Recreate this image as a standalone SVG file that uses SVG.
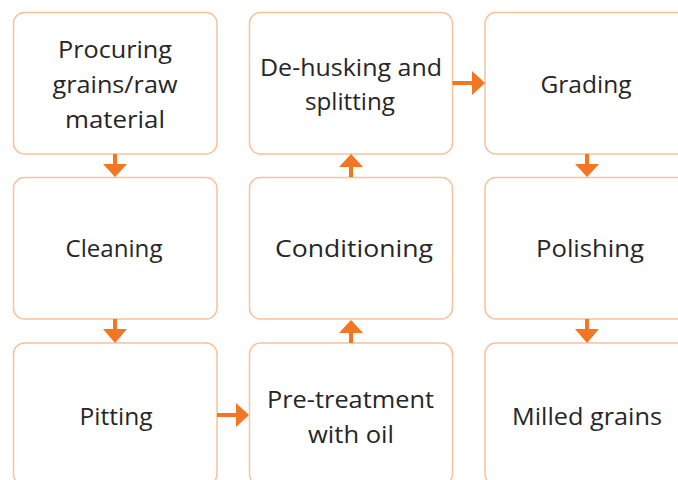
<svg xmlns="http://www.w3.org/2000/svg" width="678" height="480" viewBox="0 0 678 480">
  <style>
    .box { fill: #ffffff; stroke: #F9C29A; stroke-width: 1.5; }
    .lbl { font-family: "Open Sans", "Noto Sans", "Liberation Sans", sans-serif; font-size: 23.5px; fill: #262626; text-anchor: middle; }
    .shaft { stroke: #F47522; stroke-width: 4; fill: none; }
    .head { fill: #F47522; }
  </style>
  <rect width="678" height="480" fill="#ffffff"/>

  <!-- Column 1 -->
  <g id="procuring">
    <rect class="box" x="13.5" y="12.5" width="203.5" height="141.5" rx="11"/>
    <text class="lbl" x="115" y="58" textLength="114" lengthAdjust="spacingAndGlyphs">Procuring</text>
    <text class="lbl" x="115" y="93" textLength="125" lengthAdjust="spacingAndGlyphs">grains/raw</text>
    <text class="lbl" x="115" y="128" textLength="100" lengthAdjust="spacingAndGlyphs">material</text>
  </g>
  <g id="cleaning">
    <rect class="box" x="13.5" y="177.5" width="203.5" height="141.5" rx="11"/>
    <text class="lbl" x="114" y="257" textLength="97" lengthAdjust="spacingAndGlyphs">Cleaning</text>
  </g>
  <g id="pitting">
    <rect class="box" x="13.5" y="343" width="203.5" height="142" rx="11"/>
    <text class="lbl" x="116" y="425" textLength="73" lengthAdjust="spacingAndGlyphs">Pitting</text>
  </g>

  <!-- Column 2 -->
  <g id="dehusking">
    <rect class="box" x="249.5" y="12.5" width="203" height="141.5" rx="11"/>
    <text class="lbl" x="351" y="75.5" textLength="182" lengthAdjust="spacingAndGlyphs">De-husking and</text>
    <text class="lbl" x="350" y="110" textLength="90" lengthAdjust="spacingAndGlyphs">splitting</text>
  </g>
  <g id="conditioning">
    <rect class="box" x="249.5" y="177.5" width="203" height="141.5" rx="11"/>
    <text class="lbl" x="354" y="257" textLength="158" lengthAdjust="spacingAndGlyphs">Conditioning</text>
  </g>
  <g id="pretreatment">
    <rect class="box" x="249.5" y="343" width="203" height="142" rx="11"/>
    <text class="lbl" x="350.5" y="407.5" textLength="167" lengthAdjust="spacingAndGlyphs">Pre-treatment</text>
    <text class="lbl" x="351" y="442.5" textLength="86" lengthAdjust="spacingAndGlyphs">with oil</text>
  </g>

  <!-- Column 3 -->
  <g id="grading">
    <rect class="box" x="485" y="12.5" width="204" height="141.5" rx="11"/>
    <text class="lbl" x="586" y="92.5" textLength="91" lengthAdjust="spacingAndGlyphs">Grading</text>
  </g>
  <g id="polishing">
    <rect class="box" x="485" y="177.5" width="204" height="141.5" rx="11"/>
    <text class="lbl" x="590" y="257" textLength="108" lengthAdjust="spacingAndGlyphs">Polishing</text>
  </g>
  <g id="milled">
    <rect class="box" x="485" y="343" width="204" height="142" rx="11"/>
    <text class="lbl" x="587" y="425" textLength="150" lengthAdjust="spacingAndGlyphs">Milled grains</text>
  </g>

  <!-- Connectors -->
  <g id="connectors">
    <!-- Procuring -> Cleaning -->
    <line class="shaft" x1="115" y1="154" x2="115" y2="165"/>
    <polygon class="head" points="103,164 127,164 115,177"/>
    <!-- Cleaning -> Pitting -->
    <line class="shaft" x1="115" y1="319" x2="115" y2="330"/>
    <polygon class="head" points="103,329 127,329 115,343"/>
    <!-- Pitting -> Pre-treatment -->
    <line class="shaft" x1="217" y1="415" x2="237" y2="415"/>
    <polygon class="head" points="236,403 236,427 249,415"/>
    <!-- Pre-treatment -> Conditioning -->
    <line class="shaft" x1="351" y1="343" x2="351" y2="332"/>
    <polygon class="head" points="339,333 363,333 351,320"/>
    <!-- Conditioning -> De-husking -->
    <line class="shaft" x1="351" y1="177" x2="351" y2="166"/>
    <polygon class="head" points="339,167 363,167 351,154"/>
    <!-- De-husking -> Grading -->
    <line class="shaft" x1="452.5" y1="83" x2="473" y2="83"/>
    <polygon class="head" points="472,71 472,95 485,83"/>
    <!-- Grading -> Polishing -->
    <line class="shaft" x1="587" y1="154" x2="587" y2="165"/>
    <polygon class="head" points="575,164 599,164 587,177"/>
    <!-- Polishing -> Milled grains -->
    <line class="shaft" x1="587" y1="319" x2="587" y2="330"/>
    <polygon class="head" points="575,329 599,329 587,343"/>
  </g>
</svg>
